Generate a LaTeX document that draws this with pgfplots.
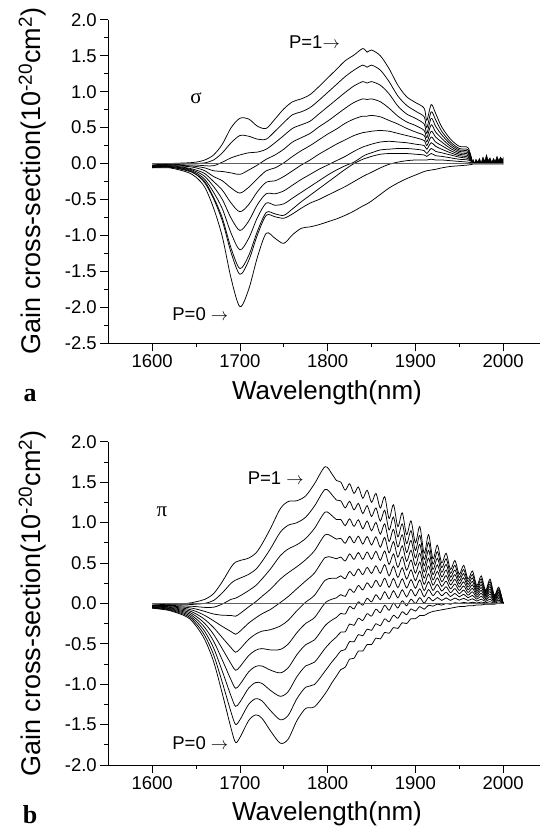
\documentclass[border=0pt]{standalone}
\usepackage{pgfplots}
\usepackage{pgfplotstable}
\pgfplotsset{compat=1.18}
\usepackage{fontspec}
\setmainfont{Liberation Sans}
\newfontfamily\serif{Liberation Serif}

% sigma polarisation, curves P=0 (c0) ... P=1 (c10)
\pgfplotstableread{
lam c0 c1 c2 c3 c4 c5 c6 c7 c8 c9 c10
1600 -0.06 -0.055 -0.05 -0.05 -0.045 -0.04 -0.04 -0.035 -0.03 -0.025 -0.02
1620 -0.06 -0.05 -0.05 -0.04 -0.04 -0.03 -0.03 -0.02 -0.01 -0.01 0.0
1640 -0.12 -0.10 -0.09 -0.08 -0.07 -0.06 -0.04 -0.03 -0.02 0.0 0.01
1650 -0.19 -0.15 -0.15 -0.13 -0.11 -0.09 -0.06 -0.04 -0.02 0.0 0.02
1660 -0.33 -0.27 -0.25 -0.22 -0.18 -0.14 -0.10 -0.06 -0.03 0.01 0.05
1670 -0.62 -0.49 -0.47 -0.40 -0.32 -0.25 -0.18 -0.10 -0.03 0.05 0.12
1680 -1.02 -0.80 -0.76 -0.63 -0.50 -0.37 -0.24 -0.11 0.02 0.15 0.27
1690 -1.60 -1.24 -1.18 -0.97 -0.76 -0.55 -0.34 -0.13 0.08 0.29 0.50
1700 -1.99 -1.54 -1.46 -1.20 -0.93 -0.67 -0.41 -0.15 0.12 0.39 0.63
1710 -1.75 -1.35 -1.28 -1.04 -0.80 -0.57 -0.33 -0.09 0.15 0.38 0.62
1720 -1.30 -0.99 -0.94 -0.75 -0.57 -0.39 -0.21 -0.02 0.16 0.34 0.52
1730 -0.97 -0.72 -0.68 -0.55 -0.42 -0.26 -0.10 0.06 0.20 0.34 0.49
1740 -1.04 -0.74 -0.70 -0.58 -0.42 -0.24 -0.06 0.12 0.29 0.45 0.62
1750 -1.11 -0.76 -0.72 -0.56 -0.38 -0.18 0.01 0.20 0.39 0.57 0.76
1760 -0.99 -0.70 -0.63 -0.48 -0.30 -0.10 0.10 0.30 0.49 0.68 0.86
1770 -0.90 -0.62 -0.53 -0.40 -0.22 -0.02 0.18 0.36 0.54 0.72 0.90
1780 -0.88 -0.55 -0.44 -0.32 -0.15 0.05 0.25 0.42 0.59 0.78 0.96
1790 -0.85 -0.50 -0.35 -0.24 -0.08 0.13 0.33 0.51 0.69 0.88 1.07
1800 -0.81 -0.44 -0.26 -0.16 -0.02 0.20 0.41 0.59 0.79 0.99 1.19
1810 -0.77 -0.38 -0.17 -0.09 0.04 0.27 0.48 0.68 0.89 1.10 1.31
1820 -0.72 -0.32 -0.08 -0.03 0.10 0.33 0.56 0.77 0.99 1.21 1.43
1830 -0.66 -0.25 0.00 0.02 0.17 0.39 0.62 0.85 1.08 1.30 1.51
1840 -0.59 -0.18 0.06 0.10 0.23 0.43 0.66 0.90 1.14 1.37 1.60
1845 -0.56 -0.15 0.08 0.13 0.25 0.44 0.66 0.89 1.12 1.34 1.55
1850 -0.52 -0.12 0.10 0.15 0.27 0.45 0.67 0.90 1.14 1.37 1.58
1860 -0.43 -0.06 0.13 0.19 0.30 0.46 0.65 0.86 1.09 1.30 1.50
1870 -0.34 -0.01 0.14 0.20 0.31 0.45 0.60 0.77 0.97 1.14 1.32
1880 -0.27 0.02 0.14 0.21 0.30 0.42 0.55 0.66 0.80 0.94 1.09
1890 -0.21 0.04 0.14 0.21 0.29 0.39 0.49 0.58 0.69 0.81 0.93
1900 -0.16 0.05 0.13 0.20 0.27 0.36 0.44 0.53 0.63 0.73 0.85
1910 -0.11 0.05 0.12 0.18 0.25 0.32 0.39 0.46 0.55 0.65 0.77
1913 -0.10 0.05 0.10 0.14 0.20 0.25 0.30 0.36 0.42 0.50 0.60
1918 -0.09 0.06 0.14 0.21 0.29 0.37 0.45 0.54 0.63 0.72 0.82
1923 -0.08 0.05 0.11 0.17 0.24 0.30 0.37 0.44 0.52 0.61 0.70
1930 -0.06 0.05 0.10 0.15 0.20 0.25 0.30 0.35 0.40 0.45 0.51
1940 -0.04 0.04 0.08 0.12 0.15 0.18 0.21 0.24 0.27 0.30 0.34
1950 -0.03 0.03 0.06 0.09 0.11 0.13 0.15 0.17 0.19 0.21 0.24
1960 -0.02 0.02 0.05 0.07 0.09 0.11 0.13 0.15 0.17 0.19 0.22
1965 -0.01 0.01 0.02 0.02 0.02 0.02 0.02 0.02 0.02 0.02 0.02
}\sigmadata

% pi polarisation
\pgfplotstableread{
lam c0 c1 c2 c3 c4 c5 c6 c7 c8 c9 c10
1600 -0.06 -0.056 -0.052 -0.048 -0.044 -0.040 -0.036 -0.032 -0.028 -0.024 -0.02
1620 -0.09 -0.082 -0.074 -0.066 -0.058 -0.050 -0.042 -0.034 -0.026 -0.018 -0.01
1640 -0.17 -0.153 -0.136 -0.119 -0.102 -0.085 -0.068 -0.051 -0.034 -0.017 0.00
1650 -0.28 -0.25 -0.22 -0.19 -0.16 -0.13 -0.10 -0.07 -0.04 -0.01 0.02
1660 -0.45 -0.40 -0.35 -0.30 -0.25 -0.20 -0.15 -0.10 -0.05 0.00 0.05
1670 -0.72 -0.636 -0.552 -0.468 -0.384 -0.300 -0.216 -0.132 -0.048 0.036 0.12
1680 -1.12 -0.981 -0.842 -0.703 -0.564 -0.425 -0.286 -0.147 -0.008 0.131 0.27
1690 -1.55 -1.35 -1.15 -0.95 -0.75 -0.55 -0.35 -0.15 0.05 0.25 0.45
1695 -1.72 -1.497 -1.274 -1.051 -0.828 -0.605 -0.382 -0.159 0.064 0.287 0.51
1700 -1.66 -1.441 -1.222 -1.003 -0.784 -0.565 -0.346 -0.127 0.092 0.311 0.53
1710 -1.45 -1.249 -1.048 -0.847 -0.646 -0.445 -0.244 -0.043 0.158 0.359 0.56
1718 -1.38 -1.18 -0.98 -0.78 -0.58 -0.38 -0.18 0.02 0.22 0.42 0.62
1725 -1.42 -1.205 -0.99 -0.775 -0.56 -0.345 -0.13 0.085 0.30 0.515 0.73
1735 -1.58 -1.329 -1.078 -0.827 -0.576 -0.325 -0.074 0.177 0.428 0.679 0.93
1746 -1.73 -1.44 -1.15 -0.86 -0.57 -0.28 0.01 0.30 0.59 0.88 1.17
1755 -1.68 -1.386 -1.092 -0.798 -0.504 -0.21 0.084 0.378 0.672 0.966 1.26
1765 -1.45 -1.178 -0.906 -0.634 -0.362 -0.09 0.182 0.454 0.726 0.998 1.27
1775 -1.30 -1.037 -0.774 -0.511 -0.248 0.015 0.278 0.541 0.804 1.067 1.33
1785 -1.28 -1.004 -0.728 -0.452 -0.176 0.10 0.376 0.652 0.928 1.204 1.48
1797 -1.12 -0.839 -0.558 -0.277 0.004 0.285 0.566 0.847 1.128 1.409 1.69
1805 -0.98 -0.722 -0.464 -0.206 0.052 0.31 0.568 0.826 1.084 1.342 1.60
1810 -0.90 -0.658 -0.416 -0.174 0.068 0.31 0.552 0.794 1.036 1.278 1.52
1815 -0.82 -0.588 -0.356 -0.124 0.108 0.34 0.572 0.804 1.036 1.268 1.50
1820 -0.79 -0.571 -0.352 -0.133 0.086 0.305 0.524 0.743 0.962 1.181 1.40
1825 -0.69 -0.473 -0.256 -0.039 0.178 0.395 0.612 0.829 1.046 1.263 1.48
1830 -0.68 -0.476 -0.272 -0.068 0.136 0.34 0.544 0.748 0.952 1.156 1.36
1835 -0.59 -0.387 -0.184 0.019 0.222 0.425 0.628 0.831 1.034 1.237 1.44
1840 -0.59 -0.401 -0.212 -0.023 0.166 0.355 0.544 0.733 0.922 1.111 1.30
1845 -0.51 -0.319 -0.128 0.063 0.254 0.445 0.636 0.827 1.018 1.209 1.40
1850 -0.51 -0.334 -0.158 0.018 0.194 0.37 0.546 0.722 0.898 1.074 1.25
1855 -0.43 -0.251 -0.072 0.107 0.286 0.465 0.644 0.823 1.002 1.181 1.36
1860 -0.44 -0.278 -0.116 0.046 0.208 0.37 0.532 0.694 0.856 1.018 1.18
1865 -0.36 -0.192 -0.024 0.144 0.312 0.48 0.648 0.816 0.984 1.152 1.32
1870 -0.37 -0.228 -0.086 0.056 0.198 0.34 0.482 0.624 0.766 0.908 1.05
1875 -0.30 -0.148 0.004 0.156 0.308 0.46 0.612 0.764 0.916 1.068 1.22
1880 -0.31 -0.184 -0.058 0.068 0.194 0.32 0.446 0.572 0.698 0.824 0.95
1885 -0.24 -0.104 0.032 0.168 0.304 0.44 0.576 0.712 0.848 0.984 1.12
1890 -0.25 -0.14 -0.03 0.08 0.19 0.30 0.41 0.52 0.63 0.74 0.85
1895 -0.19 -0.069 0.052 0.173 0.294 0.415 0.536 0.657 0.778 0.899 1.02
1900 -0.19 -0.096 -0.002 0.092 0.186 0.28 0.374 0.468 0.562 0.656 0.75
1905 -0.15 -0.04 0.07 0.18 0.29 0.40 0.51 0.62 0.73 0.84 0.95
1910 -0.15 -0.073 0.004 0.081 0.158 0.235 0.312 0.389 0.466 0.543 0.62
1915 -0.12 -0.023 0.074 0.171 0.268 0.365 0.462 0.559 0.656 0.753 0.85
1920 -0.10 -0.035 0.03 0.095 0.16 0.225 0.29 0.355 0.42 0.485 0.55
1925 -0.09 -0.009 0.072 0.153 0.234 0.315 0.396 0.477 0.558 0.639 0.72
1930 -0.08 -0.022 0.036 0.094 0.152 0.21 0.268 0.326 0.384 0.442 0.50
1935 -0.07 -0.001 0.068 0.137 0.206 0.275 0.344 0.413 0.482 0.551 0.62
1940 -0.06 -0.012 0.036 0.084 0.132 0.18 0.228 0.276 0.324 0.372 0.42
1945 -0.05 0.008 0.066 0.124 0.182 0.24 0.298 0.356 0.414 0.472 0.53
1950 -0.04 0.00 0.04 0.08 0.12 0.16 0.20 0.24 0.28 0.32 0.36
1955 -0.04 0.011 0.062 0.113 0.164 0.215 0.266 0.317 0.368 0.419 0.47
1960 -0.03 0.003 0.036 0.069 0.102 0.135 0.168 0.201 0.234 0.267 0.30
1965 -0.03 0.013 0.056 0.099 0.142 0.185 0.228 0.271 0.314 0.357 0.40
1970 -0.02 0.004 0.028 0.052 0.076 0.10 0.124 0.148 0.172 0.196 0.22
1975 -0.02 0.016 0.052 0.088 0.124 0.16 0.196 0.232 0.268 0.304 0.34
1980 -0.01 0.007 0.024 0.041 0.058 0.075 0.092 0.109 0.126 0.143 0.16
1985 -0.01 0.021 0.052 0.083 0.114 0.145 0.176 0.207 0.238 0.269 0.30
1990 -0.01 0.001 0.012 0.023 0.034 0.045 0.056 0.067 0.078 0.089 0.10
1995 0.00 0.02 0.04 0.06 0.08 0.10 0.12 0.14 0.16 0.18 0.20
2000 0 0 0 0 0 0 0 0 0 0 0
}\pidata

\pgfplotsset{
  gainaxis/.style={
    scale only axis, width=431.7pt,
    xmin=1550, xmax=2042,
    axis x line=bottom, axis y line=left,
    axis line style={-, line width=0.8pt},
    tick align=outside,
    major tick length=8pt, minor tick length=4pt,
    every tick/.style={black, line width=0.8pt},
    xtick={1600,1700,1800,1900,2000},
    xticklabels={1600,1700,1800,1900,2000},
    minor x tick num=1, minor y tick num=1,
    tick label style={font=\fontsize{18.5}{18.5}\selectfont},
    clip=false,
  },
  curve/.style={black, line width=0.75pt, smooth, tension=0.5},
  zero/.style={gray!75!black, line width=1.2pt},
}
\tikzset{note/.style={font=\fontsize{18.5}{18.5}\selectfont}}

\begin{document}
\begin{tikzpicture}
\useasboundingbox (0,0) rectangle (540pt,831pt);

% panel a
\begin{axis}[gainaxis, at={(108.3pt,487.7pt)}, anchor=south west,
    height=323.5pt, ymin=-2.5, ymax=2.0,
    ytick={-2.5,-2.0,-1.5,-1.0,-0.5,0,0.5,1.0,1.5,2.0},
    yticklabels={-2.5,-2.0,-1.5,-1.0,-0.5,0.0,0.5,1.0,1.5,2.0}]
\pgfplotsinvokeforeach{0,...,10}{
  \addplot[curve] table[x=lam, y=c#1] {\sigmadata};
}
\addplot[fill=black, draw=black, line width=0.5pt] coordinates {
  (1965,-0.01) (1966,0.05) (1967,0.0) (1969,0.06) (1971,0.02) (1973,0.07)
  (1975,0.01) (1977,0.09) (1979,0.03) (1981,0.12) (1983,0.04) (1985,0.08)
  (1987,0.02) (1989,0.07) (1991,0.03) (1993,0.10) (1995,0.04) (1997,0.09)
  (1999,0.05) (2000,0.08) (2000,-0.01)
};
\addplot[zero] coordinates {(1600,0) (2000,0)};
\node[note, anchor=west] at (axis cs:1752,1.69) {P=1$\rightarrow$};
\node[note, anchor=west] at (axis cs:1619,-2.09) {P=0 $\rightarrow$};
\node[font=\serif\fontsize{21}{21}\selectfont] at (axis cs:1650,0.91) {σ};
\end{axis}

% panel b
\begin{axis}[gainaxis, at={(108.3pt,66pt)}, anchor=south west,
    height=323.3pt, ymin=-2.0, ymax=2.0,
    ytick={-2.0,-1.5,-1.0,-0.5,0,0.5,1.0,1.5,2.0},
    yticklabels={-2.0,-1.5,-1.0,-0.5,0.0,0.5,1.0,1.5,2.0}]
\pgfplotsinvokeforeach{0,...,10}{
  \addplot[curve] table[x=lam, y=c#1] {\pidata};
}
\addplot[zero] coordinates {(1600,0) (2000,0)};
\node[note, anchor=west] at (axis cs:1705,1.55) {P=1 $\rightarrow$};
\node[note, anchor=west] at (axis cs:1619,-1.73) {P=0 $\rightarrow$};
\node[font=\serif\fontsize{21}{21}\selectfont] at (axis cs:1611,1.13) {π};
\end{axis}

% axis titles and panel letters
\node[rotate=90, anchor=base, font=\fontsize{27}{27}\selectfont] at (41pt,650pt)
  {Gain cross-section(10\textsuperscript{-20}cm\textsuperscript{2})};
\node[anchor=base, font=\fontsize{26}{26}\selectfont] at (327pt,431pt) {Wavelength(nm)};
\node[anchor=base, font=\serif\bfseries\fontsize{26}{26}\selectfont] at (30pt,429pt) {a};
\node[rotate=90, anchor=base, font=\fontsize{27}{27}\selectfont] at (41pt,227.6pt)
  {Gain cross-section(10\textsuperscript{-20}cm\textsuperscript{2})};
\node[anchor=base, font=\fontsize{26}{26}\selectfont] at (327pt,10pt) {Wavelength(nm)};
\node[anchor=base, font=\serif\bfseries\fontsize{26}{26}\selectfont] at (30pt,8pt) {b};
\end{tikzpicture}
\end{document}
